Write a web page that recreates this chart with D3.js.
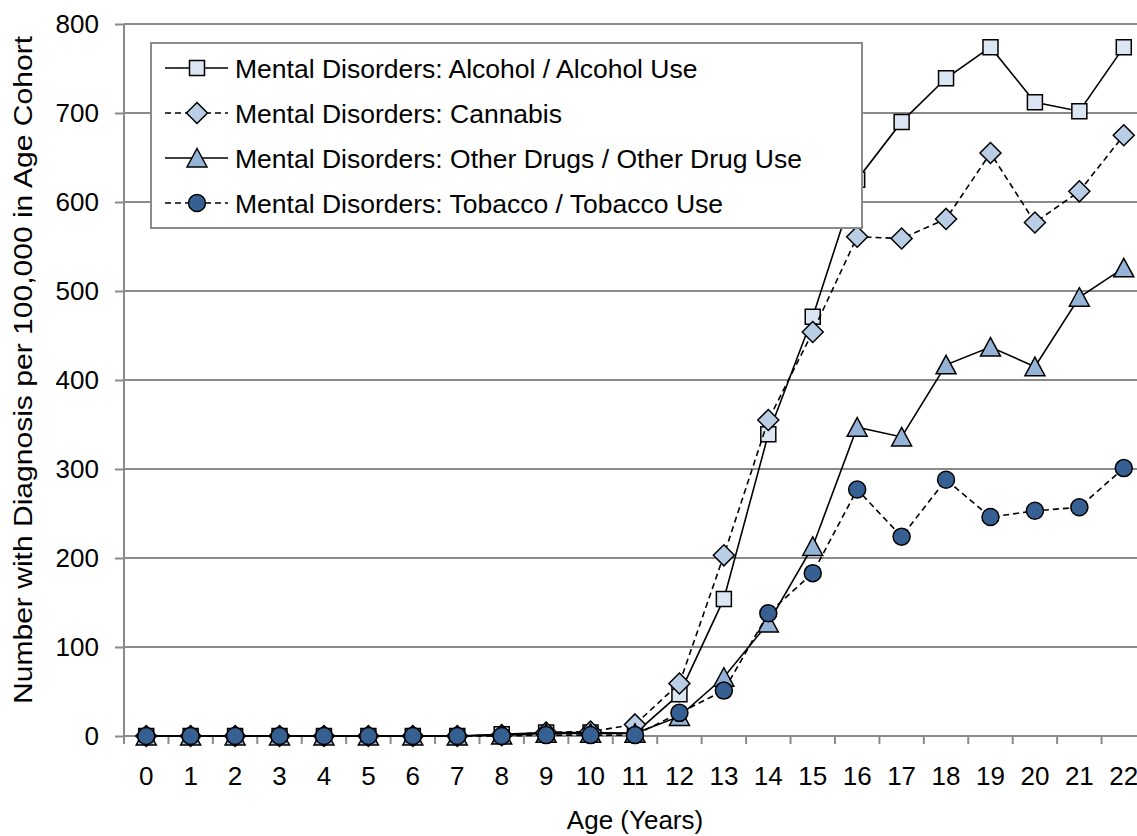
<!DOCTYPE html>
<html>
<head>
<meta charset="utf-8">
<script src="https://cdn.jsdelivr.net/npm/d3@7"></script>
<style>
  html, body { margin: 0; padding: 0; background: #fff; }
  svg { display: block; font-family: "Liberation Sans", Arial, sans-serif; }
</style>
</head>
<body>
<div id="chart"></div>
<script>
// Data
const ages = d3.range(0, 23).map(String);
const yTicks = [0, 100, 200, 300, 400, 500, 600, 700, 800];

const seriesNames = [
  "Mental Disorders: Alcohol / Alcohol Use",
  "Mental Disorders: Cannabis",
  "Mental Disorders: Other Drugs / Other Drug Use",
  "Mental Disorders: Tobacco / Tobacco Use"
];

const alcohol   = [0, 0, 0, 0, 0, 0, 0, 0, 2, 4, 4, 3, 47, 154, 339, 471, 625, 690, 739, 774, 712, 702, 774];
const cannabis  = [0, 0, 0, 0, 0, 0, 0, 0, 1, 4, 5, 13, 59, 203, 355, 454, 561, 559, 581, 655, 577, 612, 675];
const otherDrug = [0, 0, 0, 0, 0, 0, 0, 0, 1, 3, 3, 3, 22, 66, 127, 213, 347, 336, 417, 437, 415, 493, 526];
const tobacco   = [0, 0, 0, 0, 0, 0, 0, 0, 0, 1, 1, 1, 26, 51, 138, 183, 277, 224, 288, 246, 253, 257, 301];

const width = 1137;
const height = 836;
const plotLeft = 124;
const plotRight = 1146;   // last category is cut off by the picture edge
const plotTop = 24;
const plotBottom = 736;

const x = d3.scaleBand()
  .domain(ages)
  .range([plotLeft, plotRight]);

const y = d3.scaleLinear()
  .domain([0, 800])
  .range([plotBottom, plotTop]);

const gridColor = "#8a8a8a";

const svg = d3.select("#chart")
  .append("svg")
  .attr("width", width)
  .attr("height", height)
  .attr("viewBox", [0, 0, width, height]);

// horizontal gridlines
svg.append("g")
  .selectAll("line")
  .data(yTicks.filter(d => d > 0))
  .join("line")
  .attr("x1", plotLeft)
  .attr("x2", width)
  .attr("y1", d => y(d))
  .attr("y2", d => y(d))
  .attr("stroke", gridColor)
  .attr("stroke-width", 2);

// y axis
svg.append("g")
  .attr("transform", `translate(${plotLeft},0)`)
  .call(d3.axisLeft(y).tickValues(yTicks).tickSize(9).tickPadding(16))
  .call(g => g.select(".domain").attr("stroke", gridColor).attr("stroke-width", 2)
    .attr("d", `M0,${plotTop}V${plotBottom}`))
  .call(g => g.selectAll(".tick line").attr("stroke", gridColor).attr("stroke-width", 2))
  .call(g => g.selectAll(".tick text")
    .attr("font-size", 26)
    .attr("font-family", "Liberation Sans, Arial, sans-serif")
    .attr("fill", "#000"));

// x axis baseline
svg.append("line")
  .attr("x1", plotLeft)
  .attr("x2", width)
  .attr("y1", plotBottom)
  .attr("y2", plotBottom)
  .attr("stroke", gridColor)
  .attr("stroke-width", 2);

// x axis tick marks at category boundaries
svg.append("g")
  .selectAll("line")
  .data(ages)
  .join("line")
  .attr("x1", d => x(d))
  .attr("x2", d => x(d))
  .attr("y1", plotBottom)
  .attr("y2", plotBottom + 8)
  .attr("stroke", gridColor)
  .attr("stroke-width", 2);

// x labels
svg.append("g")
  .attr("transform", `translate(0,${plotBottom})`)
  .call(d3.axisBottom(x).tickSize(0).tickPadding(31))
  .call(g => g.select(".domain").remove())
  .call(g => g.selectAll(".tick text")
    .attr("font-size", 26)
    .attr("font-family", "Liberation Sans, Arial, sans-serif")
    .attr("fill", "#000"));

// axis titles
svg.append("text")
  .attr("x", (plotLeft + plotRight) / 2)
  .attr("y", 829)
  .attr("text-anchor", "middle")
  .attr("font-size", 26)
  .text("Age (Years)");

// the reference stretches this title along its length
svg.append("text")
  .attr("transform", `translate(32,370) rotate(-90)`)
  .attr("text-anchor", "middle")
  .attr("font-size", 26)
  .attr("textLength", 668)
  .attr("lengthAdjust", "spacingAndGlyphs")
  .text("Number with Diagnosis per 100,000 in Age Cohort");

// series
const series = [
  { name: seriesNames[0], values: alcohol,   dash: null,  shape: "square",   fill: "#dce6f2" },
  { name: seriesNames[1], values: cannabis,  dash: "6,4", shape: "diamond",  fill: "#b9cde5" },
  { name: seriesNames[2], values: otherDrug, dash: null,  shape: "triangle", fill: "#95b3d7" },
  { name: seriesNames[3], values: tobacco,   dash: "6,4", shape: "circle",   fill: "#376092" }
];

const symbolPath = {
  square: "M-7.5,-7.5H7.5V7.5H-7.5Z",
  diamond: "M0,-10.5L10.5,0L0,10.5L-10.5,0Z",
  triangle: "M0,-9.5L10,9L-10,9Z",
  circle: "M8.5,0A8.5,8.5,0,1,1,-8.5,0A8.5,8.5,0,1,1,8.5,0Z"
};

const cx = d => x(d) + x.bandwidth() / 2;

const line = d3.line()
  .x(d => cx(d.age))
  .y(d => y(d.value));

for (const s of series) {
  const pts = ages.map((a, i) => ({ age: a, value: s.values[i] }));
  const g = svg.append("g");

  g.append("path")
    .datum(pts)
    .attr("fill", "none")
    .attr("stroke", "#000")
    .attr("stroke-width", 1.6)
    .attr("stroke-dasharray", s.dash)
    .attr("d", line);

  g.selectAll(".marker")
    .data(pts)
    .join("path")
    .attr("class", "marker")
    .attr("transform", d => `translate(${cx(d.age)},${y(d.value)})`)
    .attr("d", symbolPath[s.shape])
    .attr("fill", s.fill)
    .attr("stroke", "#000")
    .attr("stroke-width", 1.5);
}

// legend
const legend = svg.append("g");

legend.append("rect")
  .attr("x", 151)
  .attr("y", 43)
  .attr("width", 711)
  .attr("height", 185)
  .attr("fill", "#fff")
  .attr("stroke", gridColor)
  .attr("stroke-width", 2);

const item = legend.selectAll(".item")
  .data(series)
  .join("g")
  .attr("class", "item")
  .attr("transform", (d, i) => `translate(0,${68 + i * 45})`);

item.append("line")
  .attr("x1", 165)
  .attr("x2", 228)
  .attr("stroke", "#000")
  .attr("stroke-width", 1.6)
  .attr("stroke-dasharray", d => d.dash);

item.append("path")
  .attr("transform", "translate(197,0)")
  .attr("d", d => symbolPath[d.shape])
  .attr("fill", d => d.fill)
  .attr("stroke", "#000")
  .attr("stroke-width", 1.5);

item.append("text")
  .attr("x", 235)
  .attr("y", 9.5)
  .attr("font-size", 26.5)
  .text(d => d.name);
</script>
</body>
</html>
